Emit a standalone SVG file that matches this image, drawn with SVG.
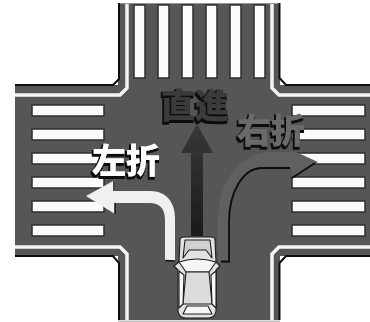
<svg xmlns="http://www.w3.org/2000/svg" width="370" height="322" viewBox="0 0 370 322">
<style>
.bar{fill:#fbfbfb;stroke:#2e2e2e;stroke-width:1.5}
.edge{fill:none;stroke-linejoin:miter}
.w{stroke:#f4f4f4;stroke-width:3.5}
.k{stroke:#111;stroke-width:2}
.lbl{font-family:"Noto Sans CJK JP","Noto Sans CJK SC",sans-serif;font-size:34px;font-weight:900;text-anchor:middle}
.car{stroke:#1c1c1c;stroke-width:1.1;stroke-linejoin:round}
</style>
<defs>
<filter id="soft" x="-5%" y="-5%" width="110%" height="110%"><feGaussianBlur stdDeviation="0.55"/></filter>
<filter id="halo" x="-20%" y="-20%" width="140%" height="140%">
<feMorphology in="SourceAlpha" operator="dilate" radius="1.2"/>
<feOffset dx="-1" dy="1.5" result="o"/>
<feFlood flood-color="#0c0c0c"/><feComposite in2="o" operator="in" result="s"/>
<feMerge><feMergeNode in="s"/><feMergeNode in="SourceGraphic"/></feMerge>
<feGaussianBlur stdDeviation="0.45"/>
</filter>
<linearGradient id="str" x1="0" y1="124" x2="0" y2="236" gradientUnits="userSpaceOnUse"><stop offset="0" stop-color="#383838"/><stop offset="1" stop-color="#1c1c1c"/></linearGradient>
</defs>
<rect width="370" height="322" fill="#fff"/>
<g id="road" filter="url(#soft)">
<path d="M118 3H280V85H370V256H280V320H118V256H15V85H118Z" fill="#565656"/>
<path d="M118 3H280V3.800H118Z" fill="#aaa"/>
<path class="edge k" d="M15 85H113L119 79V3"/>
<path class="edge w" d="M15 95H120L127 88V4"/>
<path class="edge k" d="M370 85H286L279.500 78V3"/>
<path class="edge w" d="M370 95H279L272 88V4"/>
<path class="edge k" d="M15 256H113L119 263V320"/>
<path class="edge w" d="M15 247H120L127 254V320"/>
<path class="edge k" d="M370 256H286L279.500 263V320"/>
<path class="edge w" d="M370 247H279L272 254V320"/>
<path d="M118 320.500H280V322H118Z" fill="#bbb"/>
</g>
<g id="crosswalks" filter="url(#soft)">
<rect class="bar" x="134" y="5" width="11" height="73"/>
<rect class="bar" x="158" y="5" width="11" height="73"/>
<rect class="bar" x="182" y="5" width="11" height="73"/>
<rect class="bar" x="206" y="5" width="11" height="73"/>
<rect class="bar" x="230" y="5" width="11" height="73"/>
<rect class="bar" x="254" y="5" width="11" height="73"/>
<rect class="bar" x="32" y="105" width="72" height="11"/>
<rect class="bar" x="32" y="129" width="72" height="11"/>
<rect class="bar" x="32" y="153" width="72" height="11"/>
<rect class="bar" x="32" y="177" width="72" height="11"/>
<rect class="bar" x="32" y="201" width="72" height="11"/>
<rect class="bar" x="32" y="225" width="72" height="11"/>
<rect class="bar" x="292" y="105" width="73" height="11"/>
<rect class="bar" x="292" y="129" width="73" height="11"/>
<rect class="bar" x="292" y="153" width="73" height="11"/>
<rect class="bar" x="292" y="177" width="73" height="11"/>
<rect class="bar" x="292" y="201" width="73" height="11"/>
<rect class="bar" x="292" y="225" width="73" height="11"/>
</g>
<g id="connectors" filter="url(#soft)">
<path id="arrow-right" d="M218 262V222C218 180 240 153 270 152H296L318 162L292 178L292 168H262C243 170 229 192 229 222V262Z" fill="#606060"/>
<path d="M221 261.500H229V222C229 192 243 168 262 168H290M292 178L315 163" fill="none" stroke="#0c0c0c" stroke-width="1.800"/>
<path id="arrow-straight" d="M197 124L213 153H203V236H191V153H181Z" fill="url(#str)"/>
<path id="arrow-left" d="M86 196L115 180V191H150C166 191 175 202 175 218V261L165 260V220C165 208 159 203 150 203H115V214Z" fill="#f0f0f0"/>
<path d="M114 180.500V191M114.500 203.500H115V214M165.500 260.500L175 261" fill="none" stroke="#111" stroke-width="1.500"/>
</g>
<g id="car" filter="url(#soft)">
<path class="car" d="M180 240Q180 237 184 237H211Q215 237 215 240L216 262L220 266L216 270V311Q215 318 208 318H186Q179 318 178 311V270L174 266L179 262Z" fill="#e2e2e2"/>
<path class="car" d="M183 258L185 240H210L212 258L206 250H189Z" fill="#d0d0d0"/>
<path class="car" d="M179 262Q197 256 216 262L209 272H186Z" fill="#f6f6f6"/>
<path class="car" d="M186 272H209L212 304H183Z" fill="#dcdcdc"/>
<path class="car" d="M179 271L184 275L183 304L179 308Z" fill="#f8f8f8"/>
<path class="car" d="M216 271L211 275L212 304L216 308Z" fill="#f8f8f8"/>
<path class="car" d="M187 306H208L212 314H183Z" fill="#f6f6f6"/>
</g>
<g id="label-straight"><text class="lbl" x="195" y="118" fill="#3a3a3a" filter="url(#halo)">直進</text></g>
<g id="label-left"><text class="lbl" x="126" y="173" fill="#fff" filter="url(#halo)">左折</text></g>
<g id="label-right"><text class="lbl" x="271" y="143" fill="#6a6a6a" filter="url(#halo)">右折</text></g>
</svg>
